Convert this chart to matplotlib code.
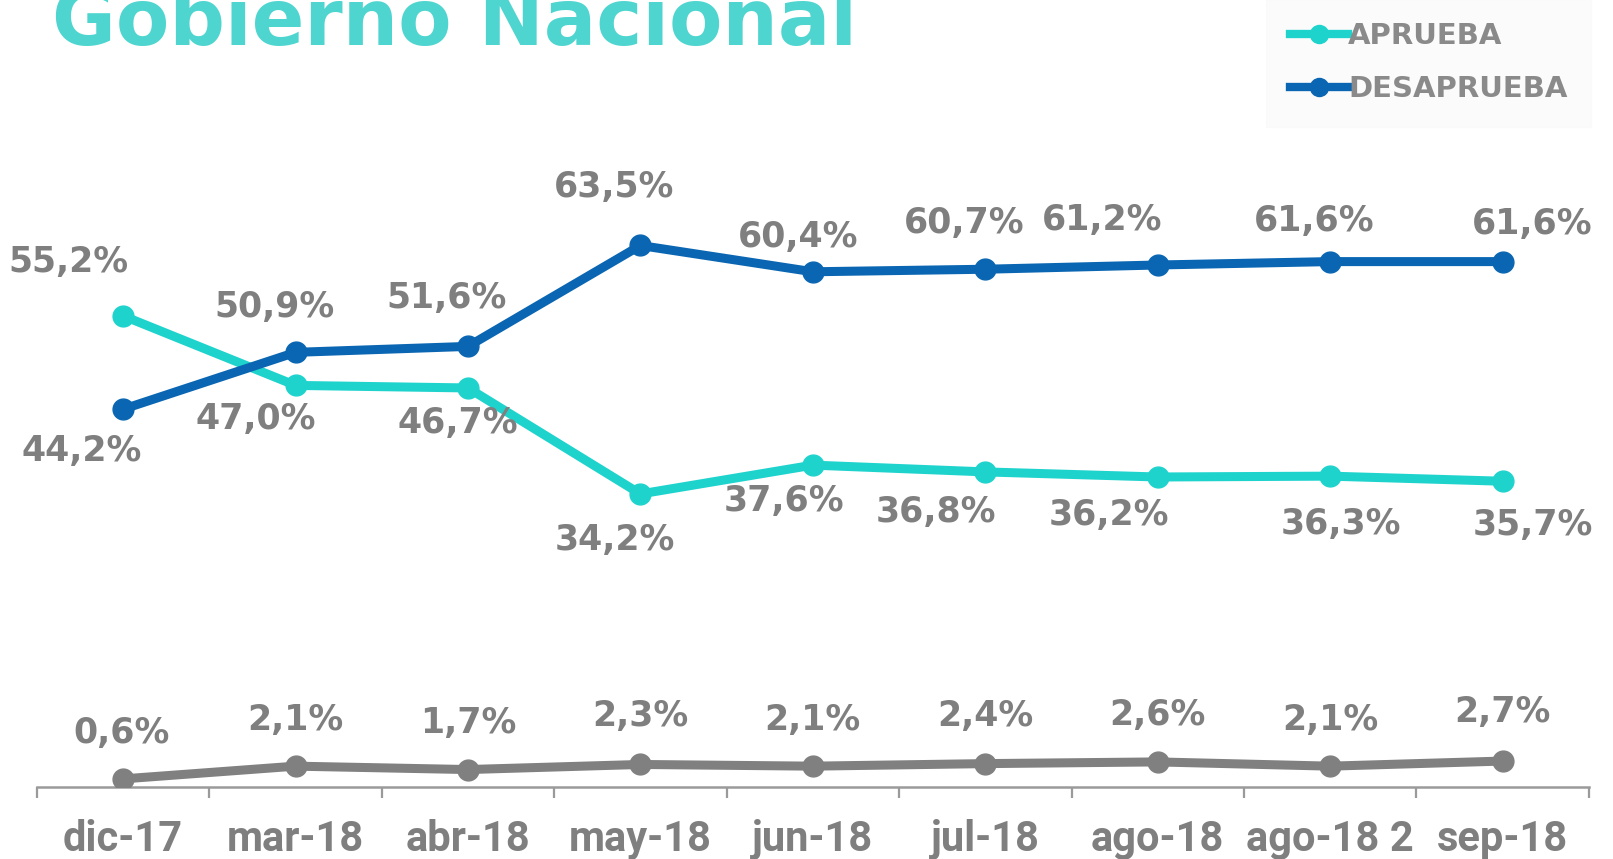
import matplotlib
matplotlib.use('Agg')
import matplotlib.pyplot as plt
from matplotlib.lines import Line2D
import numpy as np

# data
meses=['dic-17','mar-18','abr-18','may-18','jun-18','jul-18','ago-18','ago-18 2','sep-18']
aprueba=[55.2,47.0,46.7,34.2,37.6,36.8,36.2,36.3,35.7]
desaprueba=[44.2,50.9,51.6,63.5,60.4,60.7,61.2,61.6,61.6]
ns_nr=[0.6,2.1,1.7,2.3,2.1,2.4,2.6,2.1,2.7]

# label offsets in pixels (dx, dy)
off_apr=[(-55,54),(-40,-34),(-10,-35),(-26,-46),(-29,-36),(-49,-40),(-49,-38),(11,-48),(30,-44)]
off_des=[(-41,-42),(-21,45),(-21,48),(-26,58),(-15,35),(-21,46),(-56,45),(-16,41),(30,38)]
off_ns=[(-2,46),(0,46),(0,47),(0,48),(0,46),(0,48),(0,47),(0,46),(0,49)]

c_apr='#1fd3cd'
c_des='#0a66b2'
c_ns='#808080'
c_txt='#7f7f7f'

def fmt(v):
    return ('%.1f' % v).replace('.',',')+'%'

fig=plt.figure(figsize=(16.13,8.59),dpi=100)
ax=fig.add_axes([0.0229,0.0838,0.9621,0.9162])
x=np.arange(len(meses))

ax.plot(x,aprueba,'-o',color=c_apr,lw=6.5,ms=15,zorder=3,label='APRUEBA')
ax.plot(x,desaprueba,'-o',color=c_des,lw=6.5,ms=15,zorder=4,label='DESAPRUEBA')
ax.plot(x,ns_nr,'-o',color=c_ns,lw=6.5,ms=15,zorder=3)

for serie,offs in [(aprueba,off_apr),(desaprueba,off_des),(ns_nr,off_ns)]:
    for i,v in enumerate(serie):
        ax.annotate(fmt(v),(x[i],v),xytext=offs[i],textcoords='offset pixels',
                    ha='center',va='center',fontsize=25,fontweight='bold',
                    color=c_txt,family='DejaVu Sans')

ax.set_xlim(-0.5,len(meses)-0.5)
ax.set_ylim(-0.36,92.45)
ax.set_yticks([])
for s in ['top','left','right']:
    ax.spines[s].set_visible(False)
ax.spines['bottom'].set_color('#9a9a9a')
ax.spines['bottom'].set_linewidth(1.8)

ax.set_xticks(x)
ax.set_xticklabels(meses,fontsize=30,fontweight='bold',color=c_txt,family='Roboto')
ax.set_xticks(np.arange(len(meses)+1)-0.5,minor=True)
ax.tick_params(axis='x',which='major',length=0,pad=23)
ax.tick_params(axis='x',which='minor',length=8,width=1.6,color='#9a9a9a')

fig.text(0.032,0.948,'Gobierno Nacional',fontsize=56,fontweight='bold',
         color='#4fd5cf',family='DejaVu Sans',va='baseline')

handles=[Line2D([],[],color=c_apr,lw=6,marker='o',ms=13),
         Line2D([],[],color=c_des,lw=6,marker='o',ms=13)]
leg=fig.legend(handles,['APRUEBA','DESAPRUEBA'],loc='upper left',
               bbox_to_anchor=(0.776,1.018),frameon=True,fancybox=False,
               prop={'family':'DejaVu Sans','weight':'bold','size':21},
               handlelength=2.0,handletextpad=0.0,labelspacing=0.85,
               borderpad=0.8)
leg.get_frame().set_facecolor('#fafafa')
leg.get_frame().set_edgecolor('#fafafa')
for t in leg.get_texts():
    t.set_color('#8a8a8a')

plt.savefig('out.png',dpi=100)
